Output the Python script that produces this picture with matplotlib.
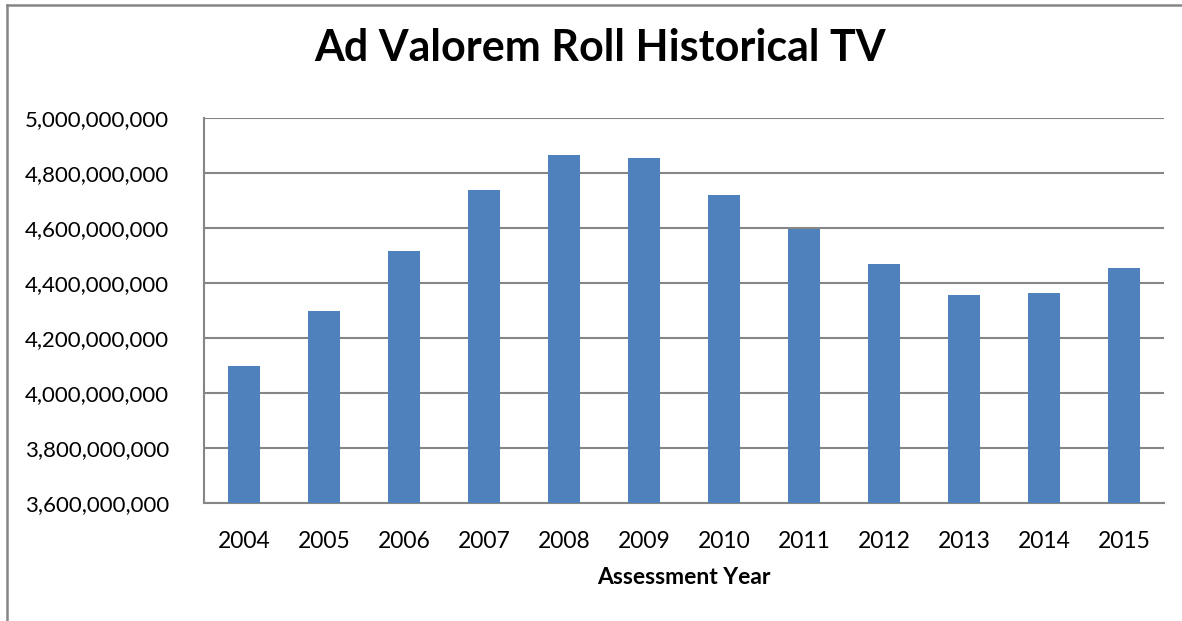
import matplotlib
matplotlib.use("Agg")
import matplotlib.pyplot as plt
from matplotlib.lines import Line2D
from matplotlib.ticker import FuncFormatter

years = ["2004", "2005", "2006", "2007", "2008", "2009", "2010", "2011", "2012", "2013", "2014", "2015"]
taxable_value = [4.099e9, 4.300e9, 4.518e9, 4.738e9, 4.867e9, 4.855e9, 4.720e9, 4.595e9, 4.469e9, 4.356e9, 4.364e9, 4.455e9]
y_ticks = [3.6e9, 3.8e9, 4.0e9, 4.2e9, 4.4e9, 4.6e9, 4.8e9, 5.0e9]

plt.rcParams['font.family'] = ['Lato', 'DejaVu Sans']

W, H = 1182, 621
fig = plt.figure(figsize=(W / 100, H / 100), dpi=100)

# outer chart border (top and left edges visible in the crop)
fig.add_artist(Line2D([7 / W, 1.0], [1 - 5 / H, 1 - 5 / H], transform=fig.transFigure,
                      color='#868686', linewidth=1.8))
fig.add_artist(Line2D([7 / W, 7 / W], [0.0, 1 - 5 / H], transform=fig.transFigure,
                      color='#868686', linewidth=1.8))

ax = fig.add_axes([204 / W, (H - 503) / H, 960 / W, 385 / H])
x = range(len(years))
ax.bar(x, taxable_value, width=0.4, color='#4F81BD', zorder=3)
ax.set_xlim(-0.5, len(years) - 0.5)
ax.set_ylim(y_ticks[0], y_ticks[-1])
ax.set_yticks(y_ticks)
ax.yaxis.set_major_formatter(FuncFormatter(lambda v, p: f"{v:,.0f}"))
ax.set_xticks(list(x))
ax.set_xticklabels(years)
ax.grid(axis='y', color='#868686', linewidth=1.5, zorder=0)
for s in ['top', 'right']:
    ax.spines[s].set_visible(False)
ax.spines['left'].set_color('#868686')
ax.spines['bottom'].set_color('#868686')
ax.spines['left'].set_linewidth(1.5)
ax.spines['bottom'].set_linewidth(1.5)
ax.tick_params(axis='y', length=0, labelsize=16, colors='black', pad=25)
ax.tick_params(axis='x', length=0, labelsize=16.5, colors='black', pad=20)
ax.set_xlabel("Assessment Year", fontsize=16.5, fontweight='bold', labelpad=11)

fig.text(600 / W, 1 - 48 / H, "Ad Valorem Roll Historical TV", ha='center', va='center',
         fontsize=31, fontweight='bold')

fig.savefig("out.png", dpi=100)
